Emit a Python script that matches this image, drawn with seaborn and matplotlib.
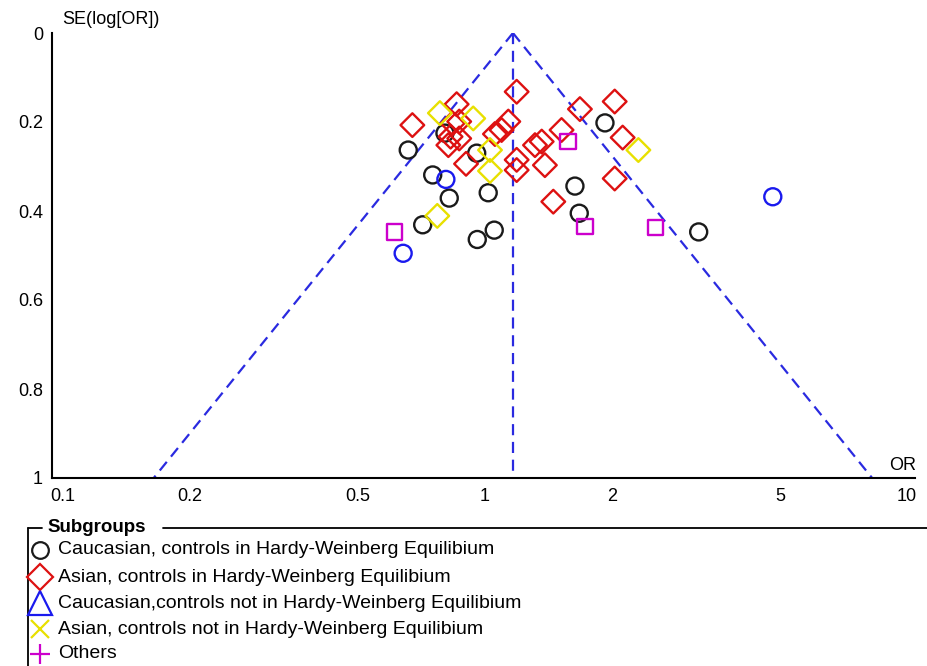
import matplotlib
matplotlib.use("Agg")
import matplotlib.pyplot as plt
import seaborn as sns
import numpy as np
import pandas as pd
from matplotlib.lines import Line2D

sns.set_theme(style="white")
plt.rcParams['font.family'] = ['Liberation Sans', 'DejaVu Sans']
plt.rcParams['text.color'] = 'black'

# ---- data (OR, SE(log OR)) ----
cauc_hwe_or = [0.658, 0.804, 0.956, 0.752, 0.823, 1.018, 1.634, 1.673, 0.712, 0.959, 1.052, 1.925, 3.21]
cauc_hwe_se = [0.263, 0.225, 0.270, 0.319, 0.371, 0.359, 0.344, 0.405, 0.431, 0.464, 0.443, 0.202, 0.447]

asian_hwe_or = [0.673, 0.857, 0.838, 0.869, 0.829, 0.869, 0.819, 0.902, 1.189, 1.136, 1.095, 1.056,
                1.189, 1.189, 1.314, 1.363, 1.519, 1.387, 1.452, 1.679, 2.03, 2.12, 2.03]
asian_hwe_se = [0.207, 0.160, 0.203, 0.199, 0.233, 0.237, 0.252, 0.294, 0.132, 0.199, 0.218, 0.227,
                0.285, 0.308, 0.252, 0.244, 0.218, 0.297, 0.379, 0.171, 0.154, 0.235, 0.327]

cauc_nhwe_or = [0.808, 0.640, 4.81]
cauc_nhwe_se = [0.329, 0.495, 0.368]

asian_nhwe_or = [0.782, 0.938, 1.028, 1.028, 0.771, 2.31]
asian_nhwe_se = [0.180, 0.192, 0.263, 0.310, 0.411, 0.263]

others_or = [0.611, 1.573, 1.726, 2.54]
others_se = [0.447, 0.244, 0.434, 0.437]

pooled_or = 1.165
z = 1.96

group_labels = ["Caucasian, controls in Hardy-Weinberg Equilibium",
                "Asian, controls in Hardy-Weinberg Equilibium",
                "Caucasian,controls not in Hardy-Weinberg Equilibium",
                "Asian, controls not in Hardy-Weinberg Equilibium",
                "Others"]

x_ticks = [0.1, 0.2, 0.5, 1, 2, 5, 10]
x_ticklabels = ["0.1", "0.2", "0.5", "1", "2", "5", "10"]
y_ticks = [0, 0.2, 0.4, 0.6, 0.8, 1]
y_ticklabels = ["0", "0.2", "0.4", "0.6", "0.8", "1"]

# ---- figure ----
W, H = 928, 666
fig = plt.figure(figsize=(W / 100, H / 100), dpi=100)
ax = fig.add_axes([52 / W, 1 - 478 / H, (915 - 52) / W, (478 - 33) / H])

funnel_col = "#2a2ae0"
dash = (0, (5, 3))
se_line = [0, 1]
ax.plot([pooled_or, pooled_or], se_line, ls=dash, color=funnel_col, lw=1.6, zorder=1)
ax.plot([pooled_or, pooled_or * np.exp(-z)], se_line, ls=dash, color=funnel_col, lw=1.6, zorder=1)
ax.plot([pooled_or, pooled_or * np.exp(z)], se_line, ls=dash, color=funnel_col, lw=1.6, zorder=1)

groups = [
    (cauc_hwe_or, cauc_hwe_se, "o", "#1a1a1a", 150),
    (asian_hwe_or, asian_hwe_se, "D", "#dd1111", 145),
    (cauc_nhwe_or, cauc_nhwe_se, "o", "#1a1aee", 150),
    (asian_nhwe_or, asian_nhwe_se, "D", "#e8e000", 145),
    (others_or, others_se, "s", "#cc00cc", 120),
]
for xs, ys, m, c, s in groups:
    df = pd.DataFrame({"OR": xs, "SE": ys})
    sns.scatterplot(data=df, x="OR", y="SE", marker=m, s=s, facecolor="none",
                    edgecolor=c, linewidth=1.7, ax=ax, zorder=3, legend=False)

ax.set_xscale("log")
ax.set_xlim(0.0942, 10.45)
ax.set_ylim(1, 0)
ax.set_xticks(x_ticks)
ax.set_xticklabels(x_ticklabels)
ax.xaxis.set_minor_locator(matplotlib.ticker.NullLocator())
ax.set_yticks(y_ticks)
ax.set_yticklabels(y_ticklabels)
ax.set_xlabel("")
ax.set_ylabel("")
for sp in ["top", "right"]:
    ax.spines[sp].set_visible(False)
for sp in ["left", "bottom"]:
    ax.spines[sp].set_color("black")
    ax.spines[sp].set_linewidth(1.5)
ax.tick_params(axis="both", direction="inout", length=11, width=1.2, colors="black",
               labelcolor="black", labelsize=13, pad=2)
ax.tick_params(axis="y", pad=1)
ax.grid(False)

fig.text(62 / W, 1 - 20 / H, "SE(log[OR])", fontsize=13, ha="left", va="center")
fig.text(903 / W, 1 - 465 / H, "OR", fontsize=13, ha="center", va="center")

# ---- legend (box with title breaking the top border) ----
ly = 1 - 528 / H
fig.add_artist(Line2D([28 / W, 28 / W], [ly, 0], color="black", lw=1.3))
fig.add_artist(Line2D([28 / W, 42 / W], [ly, ly], color="black", lw=1.3))
fig.add_artist(Line2D([163 / W, 1.0], [ly, ly], color="black", lw=1.3))
fig.text(47 / W, ly, "Subgroups", fontsize=13.5, fontweight="bold", ha="left", va="center")

leg_markers = ["o", "D", "^", "x", "+"]
leg_colors = ["#1a1a1a", "#dd1111", "#1a1aee", "#e8e000", "#cc00cc"]
leg_sizes = [12, 13, 17, 13, 15]
rows = [550, 577, 603, 629, 654]
for lab, m, c, ms, r in zip(group_labels, leg_markers, leg_colors, leg_sizes, rows):
    fig.add_artist(Line2D([40 / W], [1 - r / H], marker=m, markersize=ms, markerfacecolor="none",
                          markeredgecolor=c, markeredgewidth=1.6, linestyle="none"))
    fig.text(58 / W, 1 - r / H, lab, fontsize=14.0, ha="left", va="center")

fig.savefig("out.png", dpi=100)
